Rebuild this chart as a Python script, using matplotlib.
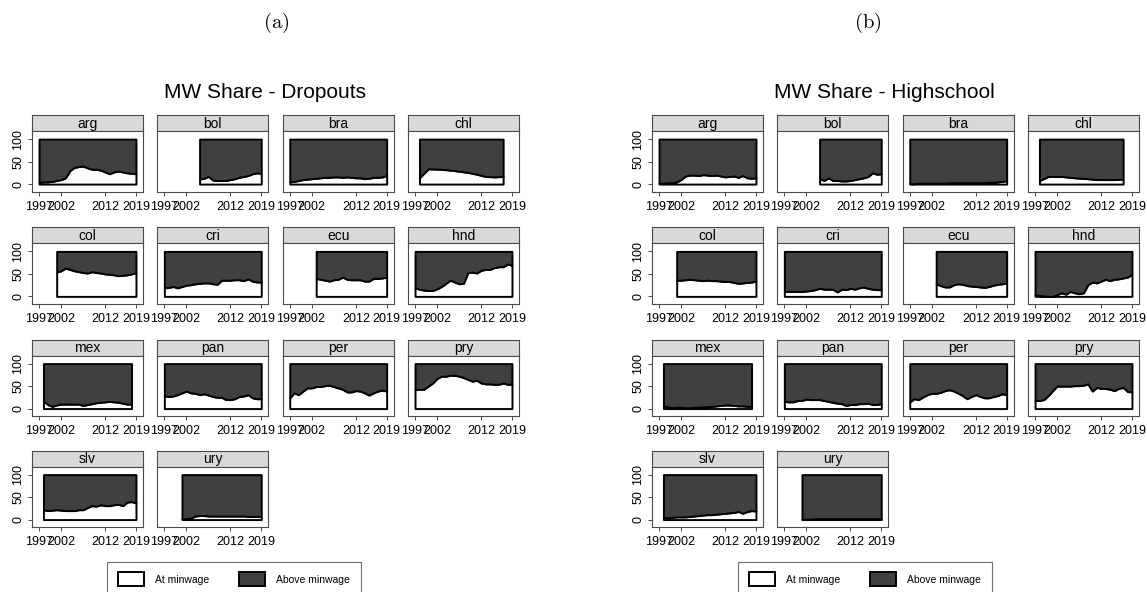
import matplotlib
matplotlib.use("Agg")
import matplotlib.pyplot as plt
from matplotlib.patches import Patch

plt.rcParams["font.family"] = ["Liberation Sans", "DejaVu Sans"]
plt.rcParams["mathtext.fontset"] = "cm"

# --- country panels ---------------------------------------------------------
countries = ["arg", "bol", "bra", "chl", "col", "cri", "ecu",
             "hnd", "mex", "pan", "per", "pry", "slv", "ury"]

years_arg = list(range(1997, 2020))
years_bol = list(range(2005, 2020))
years_bra = list(range(1997, 2020))
years_chl = [1998, 2000, 2003, 2006, 2009, 2011, 2013, 2015, 2017]
years_col = list(range(2001, 2020))
years_cri = list(range(1997, 2020))
years_ecu = list(range(2003, 2020))
years_hnd = list(range(1997, 2020))
years_mex = list(range(1998, 2019))
years_pan = list(range(1997, 2020))
years_per = list(range(1997, 2020))
years_pry = list(range(1997, 2020))
years_slv = list(range(1998, 2020))
years_ury = list(range(2001, 2020))

# share of workers at the minimum wage (%), dropouts
drop_arg = [4, 5, 5, 6, 8, 10, 14, 30, 37, 39, 40, 36, 33, 33, 31, 27, 23, 27, 29, 27, 25, 24, 23]
drop_bol = [11, 13, 17, 9, 8, 8, 8, 10, 12, 15, 17, 19, 23, 25, 24]
drop_bra = [5, 6, 8, 10, 11, 12, 13, 14, 15, 15, 16, 16, 15, 16, 15, 14, 14, 12, 13, 15, 15, 16, 19]
drop_chl = [14, 34, 33, 30, 26, 22, 17, 16, 17]
drop_col = [54, 57, 63, 60, 57, 55, 53, 52, 55, 53, 52, 50, 49, 48, 46, 47, 48, 50, 53]
drop_cri = [19, 20, 22, 19, 22, 25, 26, 28, 29, 30, 30, 28, 27, 36, 36, 36, 37, 37, 35, 39, 34, 32, 32]
drop_ecu = [40, 38, 36, 34, 37, 38, 43, 38, 37, 37, 37, 34, 34, 40, 40, 41, 43]
drop_hnd = [19, 16, 14, 13, 13, 17, 22, 29, 36, 32, 28, 29, 53, 54, 52, 58, 60, 60, 64, 66, 66, 72, 69]
drop_mex = [16, 9, 5, 8, 10, 10, 10, 10, 10, 7, 9, 11, 13, 14, 15, 16, 15, 14, 12, 10, 10]
drop_pan = [28, 27, 28, 31, 35, 39, 35, 34, 31, 33, 30, 27, 25, 25, 20, 20, 22, 27, 28, 31, 24, 22, 22]
drop_per = [24, 35, 31, 39, 46, 46, 49, 49, 51, 52, 49, 46, 43, 37, 37, 40, 39, 35, 30, 35, 39, 41, 39]
drop_pry = [43, 43, 43, 50, 57, 67, 72, 72, 74, 74, 72, 69, 65, 61, 63, 57, 55, 55, 54, 54, 57, 54, 54]
drop_slv = [22, 20, 21, 22, 21, 20, 20, 20, 22, 22, 27, 31, 30, 33, 31, 31, 33, 34, 31, 39, 40, 37]
drop_ury = [2, 2, 3, 8, 9, 9, 8, 8, 8, 8, 8, 8, 8, 8, 8, 7, 7, 7, 7]

# share of workers at the minimum wage (%), high school
hs_arg = [2, 2, 3, 3, 5, 10, 18, 20, 20, 19, 21, 20, 19, 20, 18, 16, 17, 18, 15, 19, 14, 13, 14]
hs_bol = [12, 8, 14, 8, 8, 7, 7, 8, 10, 12, 14, 17, 25, 22, 23]
hs_bra = [1, 1, 2, 2, 2, 2, 2, 2, 2, 3, 3, 3, 3, 3, 3, 3, 3, 3, 4, 4, 5, 6, 8]
hs_chl = [8, 17, 17, 14, 12, 10, 10, 10, 11]
hs_col = [36, 36, 37, 38, 37, 36, 35, 36, 35, 35, 34, 33, 33, 31, 29, 30, 31, 32, 34]
hs_cri = [11, 11, 11, 11, 11, 12, 13, 15, 18, 16, 16, 16, 10, 16, 15, 18, 16, 19, 21, 18, 16, 15, 15]
hs_ecu = [28, 24, 21, 21, 26, 28, 27, 24, 23, 22, 21, 20, 22, 25, 27, 28, 30]
hs_hnd = [4, 2, 1, 0, 0, 4, 8, 5, 11, 8, 6, 8, 26, 32, 30, 34, 38, 35, 38, 39, 41, 43, 49]
hs_mex = [6, 4, 2, 3, 3, 2, 2, 3, 3, 4, 4, 5, 6, 7, 8, 8, 7, 6, 6, 5, 5]
hs_pan = [16, 15, 15, 18, 18, 21, 20, 20, 20, 18, 16, 14, 12, 11, 7, 9, 9, 11, 11, 12, 9, 9, 11]
hs_per = [15, 22, 20, 26, 31, 34, 34, 36, 40, 42, 39, 34, 29, 22, 27, 31, 27, 24, 24, 27, 29, 33, 31]
hs_pry = [18, 18, 20, 29, 40, 50, 50, 50, 50, 51, 51, 52, 55, 39, 47, 45, 45, 43, 40, 45, 47, 38, 37]
hs_slv = [5, 4, 5, 6, 6, 6, 7, 8, 9, 10, 11, 11, 12, 13, 14, 15, 16, 18, 14, 18, 20, 19]
hs_ury = [1, 1, 1, 2, 2, 2, 2, 2, 2, 2, 2, 2, 2, 2, 2, 2, 2, 2, 2]

years = [years_arg, years_bol, years_bra, years_chl, years_col, years_cri, years_ecu,
         years_hnd, years_mex, years_pan, years_per, years_pry, years_slv, years_ury]
dropouts = [drop_arg, drop_bol, drop_bra, drop_chl, drop_col, drop_cri, drop_ecu,
            drop_hnd, drop_mex, drop_pan, drop_per, drop_pry, drop_slv, drop_ury]
highschool = [hs_arg, hs_bol, hs_bra, hs_chl, hs_col, hs_cri, hs_ecu,
              hs_hnd, hs_mex, hs_pan, hs_per, hs_pry, hs_slv, hs_ury]

x_ticks = [1997, 2002, 2012, 2019]
y_ticks = [0, 50, 100]

# --- layout (pixels) --------------------------------------------------------
W, H = 1147, 592
COL_X = [32, 157.3, 282.7, 408]
ROW_Y = [115, 227.3, 339.5, 450.5]
PANEL_W, HEAD_H, BOX_H = 111, 16, 60.5
DARK = "#404040"
FRAME = "#4a4a4a"


def px_axes(fig, x, y, w, h):
    return fig.add_axes([x / W, 1 - (y + h) / H, w / W, h / H])


def draw_half(fig, dx, title, shares, title_x, tag, tag_x, legend_x):
    fig.text(tag_x / W, 1 - 23 / H, r"$\mathrm{(" + tag + ")}$",
             ha="center", va="center", fontsize=15)
    fig.text(title_x / W, 1 - 93 / H, title, ha="center", va="center", fontsize=15)

    for i, name in enumerate(countries):
        row, col = divmod(i, 4)
        x0 = COL_X[col] + dx
        y0 = ROW_Y[row]

        head = px_axes(fig, x0, y0, PANEL_W, HEAD_H)
        head.set_facecolor("#d9d9d9")
        head.set_xticks([])
        head.set_yticks([])
        for sp in head.spines.values():
            sp.set_color(FRAME)
            sp.set_linewidth(0.8)
        head.text(0.5, 0.45, name, transform=head.transAxes,
                  ha="center", va="center", fontsize=10)

        ax = px_axes(fig, x0, y0 + HEAD_H, PANEL_W, BOX_H)
        yr, val = years[i], shares[i]
        ax.fill_between(yr, 0, val, facecolor="white", edgecolor="black", lw=1.4)
        ax.fill_between(yr, val, 100, facecolor=DARK, edgecolor="black", lw=1.4)
        ax.set_xlim(1995.4, 2020.6)
        ax.set_ylim(-16.5, 118)
        ax.set_xticks(x_ticks)
        ax.tick_params(axis="x", length=3, width=0.7, color=FRAME, pad=3.5, labelsize=9)
        if col == 0:
            ax.set_yticks(y_ticks)
            ax.set_yticklabels([str(v) for v in y_ticks], rotation=90, va="center")
            ax.tick_params(axis="y", length=3, width=0.7, color=FRAME, pad=2.5, labelsize=9)
        else:
            ax.set_yticks([])
        for sp in ax.spines.values():
            sp.set_color(FRAME)
            sp.set_linewidth(0.8)

    handles = [Patch(facecolor="white", edgecolor="black", lw=1.4, label="At minwage"),
               Patch(facecolor=DARK, edgecolor="black", lw=1.4, label="Above minwage")]
    leg = fig.legend(handles=handles, loc="upper center", ncol=2,
                     bbox_to_anchor=(legend_x / W, 1 - 562 / H),
                     fontsize=7.5, frameon=True, fancybox=False,
                     handlelength=2.5, handleheight=1.6, handletextpad=1.1,
                     columnspacing=2.8, borderpad=1.0, borderaxespad=0)
    leg.get_frame().set_edgecolor(FRAME)
    leg.get_frame().set_linewidth(0.8)


fig = plt.figure(figsize=(W / 100, H / 100), dpi=100)
fig.patch.set_facecolor("white")

draw_half(fig, 0, "MW Share - Dropouts", dropouts, 265, "a", 276, 234)
draw_half(fig, 620, "MW Share - Highschool", highschool, 884, "b", 868, 865)

fig.savefig("out.png", dpi=100)
